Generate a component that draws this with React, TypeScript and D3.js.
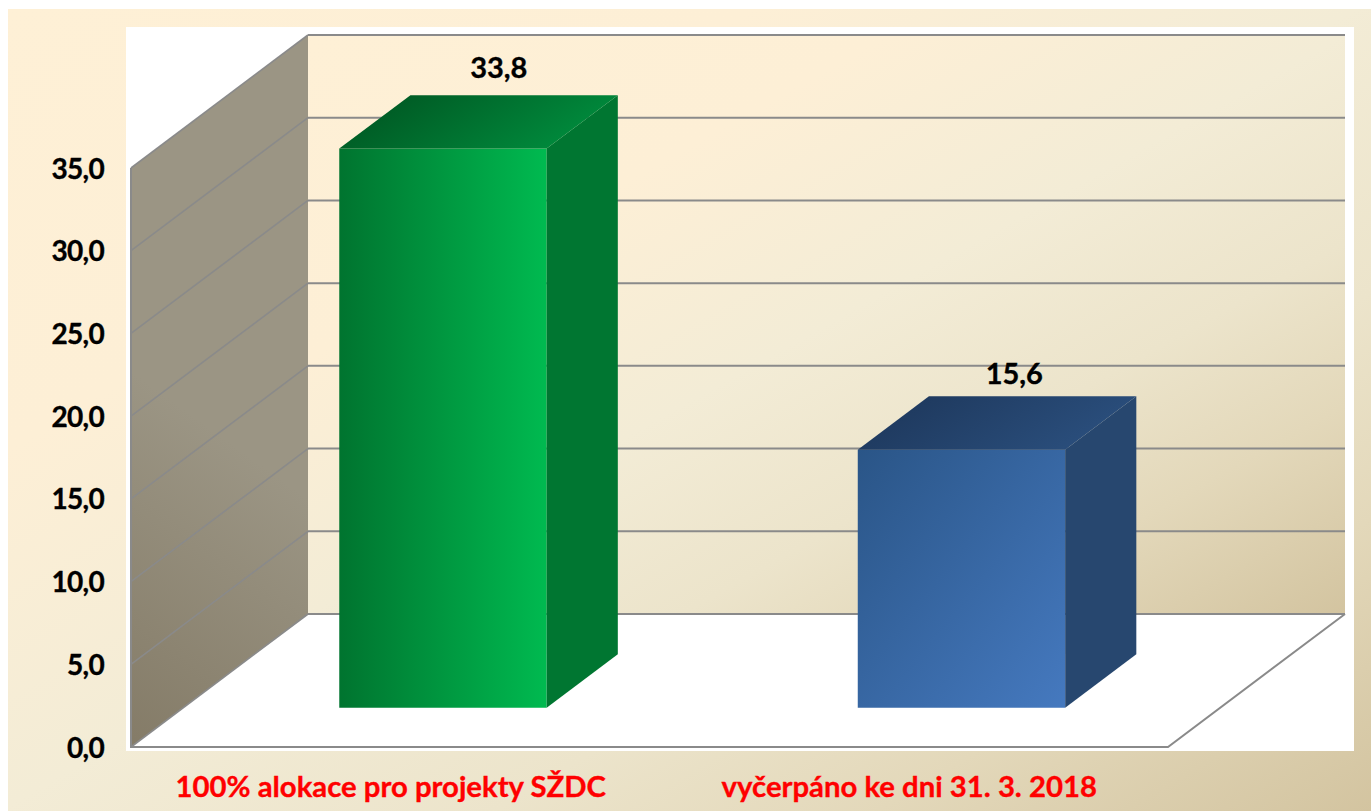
import React from "react";
import * as d3 from "d3";

const categories = ["100% alokace pro projekty SŽDC", "vyčerpáno ke dni 31. 3. 2018"];
const values = [33.8, 15.6];
const tickValues = [0, 5, 10, 15, 20, 25, 30, 35];
const formatValue = (v: number) => v.toFixed(1).replace(".", ",");

const W = 1371, H = 811;
// depth 0 = front plane of the box, 1 = back plane
const y = d3.scaleLinear().domain([0, 35]).range([747, 168]);
const depthX = d3.scaleLinear().domain([0, 1]).range([0, 177]);
const depthY = d3.scaleLinear().domain([0, 1]).range([0, -133]);
const x = d3.scaleBand<string>().domain(categories).range([131.5, 1168.5]).paddingInner(0.6).paddingOuter(0.3);
const project = (px: number, v: number, d: number): [number, number] => [px + depthX(d), y(v) + depthY(d)];
const poly = (pts: [number, number][]) => d3.line()(pts) + "Z";

const barDepthFront = 0.295, barDepthBack = 0.697;
const font = "Lato, Carlito, Calibri, sans-serif";
const gridColor = "#8a8a8a";

const barStyles = [
  { front: "url(#greenFront)", top: "url(#greenTop)", side: "#007631", labelDx: 108, labelDy: -17 },
  { front: "url(#blueFront)", top: "url(#blueTop)", side: "#27476f", labelDx: 105, labelDy: -12 },
];

const gradientStops = (
  <>
    <stop offset="0" stopColor="#fef0d6" />
    <stop offset="0.28" stopColor="#fdefd6" />
    <stop offset="0.5" stopColor="#f3ecd6" />
    <stop offset="0.68" stopColor="#ece4cb" />
    <stop offset="0.82" stopColor="#e3d8ba" />
    <stop offset="1" stopColor="#d3c4a0" />
  </>
);

export default function App() {
  const xMin = 131, xMax = 1168;
  const textStroke = { stroke: "currentColor", strokeWidth: 0.35 };
  return (
    <svg width={W} height={H} style={{ position: "absolute", left: 0, top: 0, display: "block" }}>
      <defs>
        <linearGradient id="bg" gradientUnits="userSpaceOnUse" x1="0" y1="0" x2="1" y2="1" gradientTransform={`scale(${W} ${H})`}>
          {gradientStops}
        </linearGradient>
        <linearGradient id="backWall" x1="0" y1="0" x2="1" y2="1">
          {gradientStops}
        </linearGradient>
        <linearGradient id="wall" gradientUnits="userSpaceOnUse" x1="130" y1="750" x2="310" y2="500">
          <stop offset="0" stopColor="#847b67" />
          <stop offset="1" stopColor="#9b9584" />
        </linearGradient>
        <linearGradient id="greenFront" x1="0" y1="0" x2="1" y2="0">
          <stop offset="0" stopColor="#00742f" />
          <stop offset="1" stopColor="#00ba50" />
        </linearGradient>
        <linearGradient id="greenTop" x1="0" y1="0" x2="1" y2="0.3">
          <stop offset="0" stopColor="#00501f" />
          <stop offset="1" stopColor="#008a3c" />
        </linearGradient>
        <linearGradient id="blueFront" x1="0" y1="0" x2="1" y2="1">
          <stop offset="0" stopColor="#2a5587" />
          <stop offset="1" stopColor="#4579bf" />
        </linearGradient>
        <linearGradient id="blueTop" x1="0" y1="0" x2="1" y2="0.3">
          <stop offset="0" stopColor="#1c3558" />
          <stop offset="1" stopColor="#2a4e7c" />
        </linearGradient>
      </defs>

      <rect x={8} y={9} width={W - 8} height={H - 9} fill="url(#bg)" />
      <rect x={126} y={27} width={1228} height={724} fill="#ffffff" />

      {/* back wall */}
      <path d={poly([project(xMin, 35, 1), project(xMax, 35, 1), project(xMax, 0, 1), project(xMin, 0, 1)])} fill="url(#backWall)" />
      {/* side wall */}
      <path d={poly([project(xMin, 35, 0), project(xMin, 35, 1), project(xMin, 0, 1), project(xMin, 0, 0)])} fill="url(#wall)" />

      {/* gridlines */}
      {tickValues.map((t) => (
        <g key={t} fill="none" stroke={gridColor}>
          <path strokeWidth={1.6} d={d3.line()([project(xMin, t, 0), project(xMin, t, 1)])!} />
          <path strokeWidth={2} d={d3.line()([project(xMin, t, 1), project(xMax, t, 1)])!} />
        </g>
      ))}
      <path fill="none" stroke={gridColor} strokeWidth={2}
        d={d3.line()([project(xMin, 35, 0), project(xMin, 0, 0), project(xMax, 0, 0), project(xMax, 0, 1)])!} />

      {/* bars */}
      {categories.map((c, i) => {
        const x0 = x(c)!, x1 = x0 + x.bandwidth();
        const v = values[i], s = barStyles[i];
        const a = barDepthFront, b = barDepthBack;
        return (
          <g key={c}>
            <path d={poly([project(x0, v, a), project(x1, v, a), project(x1, 0, a), project(x0, 0, a)])} fill={s.front} />
            <path d={poly([project(x1, v, a), project(x1, v, b), project(x1, 0, b), project(x1, 0, a)])} fill={s.side} />
            <path d={poly([project(x0, v, a), project(x0, v, b), project(x1, v, b), project(x1, v, a)])} fill={s.top} />
            <text x={(x0 + x1) / 2 + s.labelDx} y={project(x0, v, b)[1] + s.labelDy} textAnchor="middle"
              fontFamily={font} fontWeight={700} fontSize={29} fill="#000" color="#000" {...textStroke}>
              {formatValue(v)}
            </text>
          </g>
        );
      })}

      {/* y tick labels */}
      {tickValues.map((t) => (
        <text key={t} x={104} y={y(t) + 10.5} textAnchor="end" fontFamily={font} fontWeight={700} fontSize={28}
          letterSpacing={-0.7} fill="#000" color="#000" {...textStroke}>
          {formatValue(t)}
        </text>
      ))}

      {/* category labels */}
      {categories.map((c) => (
        <text key={c} x={x(c)! + x.bandwidth() / 2} y={797} textAnchor="middle" fontFamily={font} fontWeight={700}
          fontSize={29.3} fill="#ff0000" color="#ff0000" {...textStroke}>
          {c}
        </text>
      ))}
    </svg>
  );
}
